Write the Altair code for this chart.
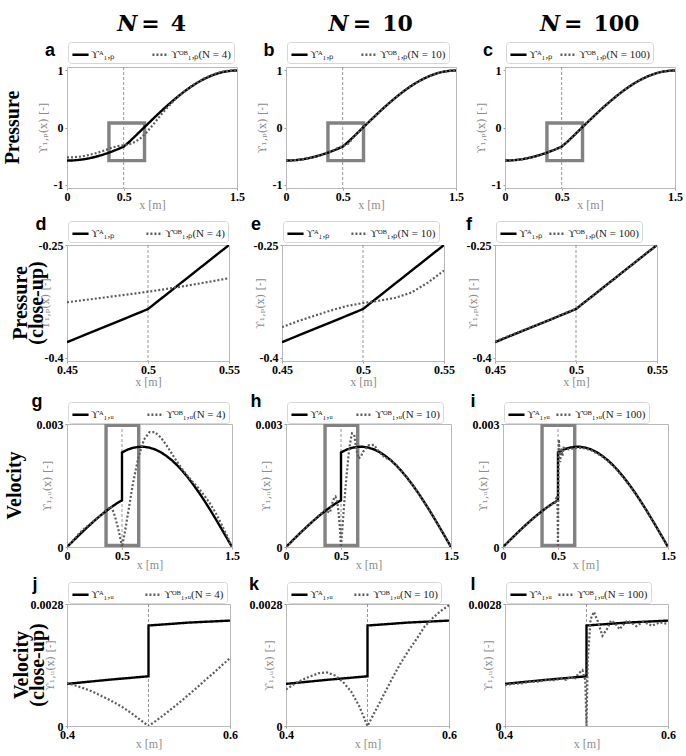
import altair as alt
import pandas as pd

# ---------------- data ----------------
# Pressure, full domain (panels a-c)
P_X = [0.0, 0.05, 0.1, 0.15, 0.2, 0.25, 0.3, 0.35, 0.4, 0.45, 0.5, 0.55, 0.6, 0.65, 0.7, 0.75,
       0.8, 0.85, 0.9, 0.95, 1.0, 1.05, 1.1, 1.15, 1.2, 1.25, 1.3, 1.35, 1.4, 1.45, 1.5]
P_A = [-0.580, -0.577, -0.569, -0.556, -0.538, -0.515, -0.487, -0.455, -0.419, -0.379, -0.335,
       -0.250, -0.155, -0.058, 0.038, 0.134, 0.229, 0.321, 0.410, 0.495, 0.577, 0.652, 0.722,
       0.785, 0.840, 0.888, 0.928, 0.959, 0.982, 0.995, 1.000]
P_OB4 = [-0.525, -0.522, -0.514, -0.500, -0.478, -0.453, -0.423, -0.388, -0.352, -0.326, -0.312,
         -0.294, -0.255, -0.185, -0.090, 0.025, 0.150, 0.270, 0.380, 0.482, 0.572, 0.652, 0.725,
         0.790, 0.848, 0.897, 0.938, 0.969, 0.989, 0.998, 1.000]
P_OB10 = [-0.578, -0.576, -0.569, -0.556, -0.538, -0.515, -0.487, -0.455, -0.417, -0.362, -0.326,
          -0.283, -0.160, -0.058, 0.037, 0.133, 0.228, 0.320, 0.409, 0.495, 0.577, 0.652, 0.722,
          0.785, 0.840, 0.888, 0.928, 0.959, 0.982, 0.995, 1.000]
P_OB100 = [-0.579, -0.576, -0.568, -0.555, -0.537, -0.514, -0.486, -0.454, -0.418, -0.378, -0.334,
           -0.250, -0.156, -0.059, 0.037, 0.133, 0.228, 0.320, 0.409, 0.494, 0.576, 0.651, 0.721,
           0.784, 0.839, 0.887, 0.927, 0.958, 0.981, 0.994, 0.999]

# Pressure close-up (panels d-f)
PC_X = [0.45, 0.46, 0.47, 0.48, 0.49, 0.5, 0.51, 0.52, 0.53, 0.54, 0.55]
PC_A = [-0.379, -0.3702, -0.3615, -0.3528, -0.3439, -0.335, -0.318, -0.301, -0.284, -0.267, -0.250]
PC_OB4 = [-0.326, -0.3233, -0.3206, -0.3178, -0.315, -0.312, -0.3088, -0.3054, -0.3018, -0.298, -0.294]
PC_OB10 = [-0.359, -0.351, -0.344, -0.337, -0.331, -0.327, -0.324, -0.320, -0.313, -0.300, -0.284]
PC_OB100 = [-0.378, -0.3695, -0.361, -0.3525, -0.3435, -0.3345, -0.3185, -0.3012, -0.2842, -0.2668, -0.2502]

# Velocity, full domain (panels g-i)
U_X = [0.0, 0.05, 0.1, 0.15, 0.2, 0.25, 0.3, 0.35, 0.4, 0.45, 0.5, 0.5, 0.55, 0.6, 0.65, 0.7,
       0.75, 0.8, 0.85, 0.9, 0.95, 1.0, 1.05, 1.1, 1.15, 1.2, 1.25, 1.3, 1.35, 1.4, 1.45, 1.5]
U_A = [0.0, 0.000133, 0.000265, 0.000395, 0.000521, 0.000642, 0.000758, 0.000866, 0.000967,
       0.001059, 0.001141, 0.002306, 0.002374, 0.002419, 0.002443, 0.002444, 0.002423, 0.002380,
       0.002315, 0.002229, 0.002123, 0.001997, 0.001853, 0.001692, 0.001516, 0.001326, 0.001124,
       0.000912, 0.000691, 0.000464, 0.000233, 0.0]
U4_X = [0.0, 0.05, 0.1, 0.15, 0.2, 0.25, 0.3, 0.35, 0.4, 0.425, 0.45, 0.475, 0.5, 0.53, 0.56, 0.6,
        0.65, 0.7, 0.75, 0.8, 0.85, 0.9, 0.95, 1.0, 1.05, 1.1, 1.15, 1.2, 1.25, 1.3, 1.35, 1.4, 1.45, 1.5]
U4 = [0.0, 0.00014, 0.00030, 0.00043, 0.00054, 0.00065, 0.00076, 0.00088, 0.00099, 0.00084,
      0.00061, 0.00034, 0.0, 0.00042, 0.00091, 0.00156, 0.00220, 0.00262, 0.00280, 0.00280,
      0.00268, 0.00250, 0.00229, 0.00208, 0.00189, 0.00172, 0.00157, 0.00142, 0.00125, 0.00106,
      0.00084, 0.00058, 0.00030, 0.0]
U10_X = [0.0, 0.05, 0.1, 0.15, 0.2, 0.25, 0.3, 0.35, 0.4, 0.41, 0.42, 0.43, 0.44, 0.45, 0.46, 0.47,
         0.48, 0.49, 0.5, 0.51, 0.52, 0.53, 0.54, 0.55, 0.56, 0.57, 0.58, 0.59, 0.6, 0.62, 0.64,
         0.66, 0.68, 0.7, 0.75, 0.8, 0.85, 0.9, 0.95, 1.0, 1.05, 1.1, 1.15, 1.2, 1.25, 1.3, 1.35,
         1.4, 1.45, 1.5]
U10 = [0.0, 0.00012, 0.00027, 0.00040, 0.00051, 0.00065, 0.00077, 0.00089, 0.00084, 0.00096,
       0.00106, 0.00114, 0.00121, 0.00123, 0.00116, 0.00101, 0.00079, 0.00045, 0.0, 0.00036,
       0.00072, 0.00108, 0.00142, 0.00172, 0.00199, 0.00228, 0.00248, 0.00264, 0.00277, 0.00274,
       0.00238, 0.00216, 0.00220, 0.00232, 0.00248, 0.00249, 0.00231, 0.00218, 0.00212, 0.00201,
       0.00184, 0.00170, 0.00152, 0.00133, 0.00111, 0.00092, 0.00070, 0.00046, 0.00024, 0.0]
U100_X = [0.0, 0.05, 0.1, 0.15, 0.2, 0.25, 0.3, 0.35, 0.4, 0.45, 0.47, 0.49, 0.495, 0.5, 0.503,
          0.508, 0.515, 0.52, 0.53, 0.54, 0.55, 0.6, 0.65, 0.7, 0.75, 0.8, 0.85, 0.9, 0.95, 1.0,
          1.05, 1.1, 1.15, 1.2, 1.25, 1.3, 1.35, 1.4, 1.45, 1.5]
U100 = [0.0, 0.000128, 0.00026, 0.00039, 0.000515, 0.000635, 0.00075, 0.00086, 0.00096, 0.00105,
        0.00107, 0.00125, 0.00118, 0.0, 0.0018, 0.00262, 0.00225, 0.00207, 0.00242, 0.00222,
        0.00242, 0.00238, 0.00241, 0.00242, 0.00240, 0.00236, 0.00229, 0.00221, 0.00210, 0.00198,
        0.00183, 0.00167, 0.00150, 0.00131, 0.00111, 0.00090, 0.00068, 0.00046, 0.00023, 0.0]

# Velocity close-up (panels j-l)
UC_X = [0.4, 0.45, 0.5, 0.5, 0.55, 0.6]
UC_A = [0.000967, 0.001059, 0.001141, 0.002306, 0.002374, 0.002419]
UC_GRID = [0.4, 0.41, 0.42, 0.43, 0.44, 0.45, 0.46, 0.47, 0.48, 0.49, 0.5, 0.51, 0.52, 0.53,
           0.54, 0.55, 0.56, 0.57, 0.58, 0.59, 0.6]
UC4 = [0.00099, 0.00093, 0.00087, 0.00080, 0.00071, 0.00062, 0.00052, 0.00041, 0.00028, 0.00014,
       0.0, 0.00013, 0.00027, 0.00042, 0.00057, 0.00073, 0.00089, 0.00106, 0.00122, 0.00139, 0.00156]
UC10 = [0.00084, 0.00096, 0.00106, 0.00114, 0.00121, 0.00123, 0.00116, 0.00101, 0.00079, 0.00045,
        0.0, 0.00036, 0.00072, 0.00108, 0.00142, 0.00172, 0.00199, 0.00228, 0.00248, 0.00264, 0.00277]
UC100_X = [0.4, 0.41, 0.42, 0.43, 0.44, 0.45, 0.46, 0.47, 0.475, 0.48, 0.485, 0.49, 0.495, 0.4985,
           0.5, 0.5015, 0.505, 0.509, 0.514, 0.5195, 0.525, 0.53, 0.535, 0.5405, 0.545, 0.5505,
           0.556, 0.561, 0.565, 0.5695, 0.575, 0.58, 0.585, 0.59, 0.595, 0.6]
UC100 = [0.00094, 0.00097, 0.00098, 0.00101, 0.00102, 0.00105, 0.00105, 0.00109, 0.00106, 0.00113,
         0.00107, 0.00120, 0.00128, 0.00105, 0.0, 0.00150, 0.00245, 0.00262, 0.00240, 0.00207,
         0.00222, 0.00242, 0.00236, 0.00222, 0.00232, 0.00242, 0.00236, 0.00229, 0.00234, 0.00239,
         0.00235, 0.00230, 0.00234, 0.00238, 0.00236, 0.00234]

N_VALUES = [4, 10, 100]
LETTERS = [["a", "b", "c"], ["d", "e", "f"], ["g", "h", "i"], ["j", "k", "l"]]
ROW_LABELS = ["Pressure", "Pressure\n(close-up)", "Velocity", "Velocity\n(close-up)"]

# ---------------- styling ----------------
SERIF = "Liberation Serif"
MATHF = "DejaVu Serif"
GRAY_T = "#8c8c8c"
FRAME = "#b8b8b8"


def sdf(xs, ys):
    return pd.DataFrame({"x": xs, "y": ys, "i": list(range(len(xs)))})


def lab_a(q):
    return "ϒᴬ₁," + q


def lab_ob(q, n):
    return "ϒᴼᴮ₁," + q + "(N = " + str(n) + ")"


def panel(row, col, spec, dA, dOB, q):
    n = N_VALUES[col]
    la, lob = lab_a(q), lab_ob(q, n)
    w, h = spec["w"], spec["h"]
    xs = alt.Scale(domain=spec["xdom"], nice=False, zero=False)
    ys = alt.Scale(domain=spec["ydom"], nice=False, zero=False)
    xax = alt.Axis(values=spec["xticks"], title="x [m]", labelFlush=False, labelOverlap=False,
                   grid=False, labelFont=SERIF, labelFontWeight="bold", labelFontSize=12,
                   labelColor="black", titleFont=SERIF, titleFontWeight="normal", titleFontSize=12,
                   titleColor=GRAY_T, tickSize=2, tickColor="#999", domainColor=FRAME,
                   labelPadding=1, titleY=spec["xty"], labelExpr="toString(datum.value)")
    yax = alt.Axis(values=spec["yticks"], title="ϒ₁," + q + "(x) [-]", labelFlush=False,
                   labelOverlap=False, grid=False, labelFont=SERIF, labelFontWeight="bold",
                   labelFontSize=12, labelColor="black", titleFont=MATHF, titleFontWeight="normal",
                   titleFontSize=11, titleColor=GRAY_T, tickSize=2, tickColor="#999",
                   domainColor=FRAME, labelPadding=2, titleX=spec["ytx"],
                   labelExpr="toString(datum.value)")
    X = lambda f: alt.X(f, type="quantitative", scale=xs, axis=xax)
    Y = lambda f: alt.Y(f, type="quantitative", scale=ys, axis=yax)
    leg = alt.Legend(orient="none", legendX=1, legendY=spec["ly"], direction="horizontal",
                     columns=2, title=None, fillColor="white", strokeColor="#d6d6d6", padding=3,
                     cornerRadius=3, columnPadding=spec["cp"][col], labelFont=SERIF, labelFontSize=11,
                     labelColor="#222", symbolType="stroke", symbolSize=260,
                     symbolStrokeWidth=2.3, labelOffset=1, labelLimit=200)
    color = alt.Color("s:N", scale=alt.Scale(domain=[la, lob], range=["#000000", "#5c5c5c"]),
                      legend=leg)
    dash = alt.StrokeDash("s:N", scale=alt.Scale(domain=[la, lob], range=[[1, 0], [2, 2]]),
                          legend=leg)

    layers = []
    layers.append(alt.Chart(pd.DataFrame({"x": [0.5]})).mark_rule(
        color="#8a8a8a", strokeWidth=0.9, strokeDash=[3, 2]).encode(x=X("x")))
    if spec.get("box"):
        b = spec["box"]
        layers.append(alt.Chart(pd.DataFrame({"x1": [b[0]], "x2": [b[1]], "y1": [b[2]], "y2": [b[3]]}))
                      .mark_rect(fillOpacity=0, stroke="#828282", strokeWidth=3.4)
                      .encode(x=X("x1"), x2="x2", y=Y("y1"), y2="y2"))
    da = sdf(*dA).assign(s=la)
    dob = sdf(*dOB).assign(s=lob)
    layers.append(alt.Chart(da).mark_line(strokeWidth=2.4, clip=True).encode(
        x=X("x"), y=Y("y"), color=color, strokeDash=dash, order="i:Q"))
    layers.append(alt.Chart(dob).mark_line(strokeWidth=2.2, clip=True).encode(
        x=X("x"), y=Y("y"), color=color, strokeDash=dash, order="i:Q"))
    # panel letter
    layers.append(alt.Chart(pd.DataFrame({"t": [LETTERS[row][col]]})).mark_text(
        font="Liberation Sans", fontWeight="bold", fontSize=18, color="black", align="center",
        baseline="middle").encode(text="t:N", x=alt.value(spec["lx"]), y=alt.value(spec["lyy"])))
    # row label
    if col == 0:
        layers.append(alt.Chart(pd.DataFrame({"t": [ROW_LABELS[row]]})).mark_text(
            font=SERIF, fontWeight="bold", fontSize=20, color="black", angle=270, align="center",
            baseline="middle", lineBreak="\n", lineHeight=16).encode(
            text="t:N", x=alt.value(spec["rlx"]), y=alt.value(h / 2)))
    # column title
    if row == 0:
        nd = len(str(n))
        W = 19 + 4 + 18 + 11 + 15.3 * nd
        nr = w / 2 - W / 2 + 19
        layers.append(alt.Chart(pd.DataFrame({"t": ["N"]})).mark_text(
            font=MATHF, fontWeight="bold", fontStyle="italic", fontSize=22, color="black",
            align="right", baseline="middle").encode(text="t:N", x=alt.value(nr), y=alt.value(-43)))
        layers.append(alt.Chart(pd.DataFrame({"t": ["=\u2002" + str(n)]})).mark_text(
            font=MATHF, fontWeight="bold", fontSize=22, color="black",
            align="left", baseline="middle").encode(text="t:N", x=alt.value(nr + 4), y=alt.value(-43)))
    return alt.layer(*layers).properties(width=w, height=h)


SPECS = [
    dict(w=170, h=121, xdom=[0, 1.5], xticks=[0, 0.5, 1.5], ydom=[-1.06, 1.06], yticks=[-1, 0, 1],
         ytx=-19, xty=11, ly=-25, lx=-17, lyy=-16, rlx=-54, box=[0.37, 0.684, -0.58, 0.08],
         cp=[32, 22, 2]),
    dict(w=162, h=116, xdom=[0.45, 0.55], xticks=[0.45, 0.5, 0.55], ydom=[-0.404, -0.25],
         yticks=[-0.4, -0.25], ytx=-17, xty=15, ly=-24, lx=-26, lyy=-20, rlx=-46, box=None,
         cp=[26, 16, 1]),
    dict(w=165, h=123, xdom=[0, 1.5], xticks=[0, 0.5, 1.5], ydom=[0, 0.003], yticks=[0, 0.003],
         ytx=-15, xty=12, ly=-22, lx=-30, lyy=-22, rlx=-52, box=[0.355, 0.652, 0.00004, 0.00297],
         cp=[28, 18, 1]),
    dict(w=163, h=122, xdom=[0.4, 0.6], xticks=[0.4, 0.6], ydom=[0, 0.0028], yticks=[0, 0.0028],
         ytx=-12, xty=12, ly=-22, lx=-32, lyy=-19, rlx=-45, box=None, cp=[26, 16, 1]),
]

DATA = [
    ("ₚ", [((P_X, P_A), (P_X, P_OB4)), ((P_X, P_A), (P_X, P_OB10)), ((P_X, P_A), (P_X, P_OB100))]),
    ("ₚ", [((PC_X, PC_A), (PC_X, PC_OB4)), ((PC_X, PC_A), (PC_X, PC_OB10)), ((PC_X, PC_A), (PC_X, PC_OB100))]),
    ("ᵤ", [((U_X, U_A), (U4_X, U4)), ((U_X, U_A), (U10_X, U10)), ((U_X, U_A), (U100_X, U100))]),
    ("ᵤ", [((UC_X, UC_A), (UC_GRID, UC4)), ((UC_X, UC_A), (UC_GRID, UC10)), ((UC_X, UC_A), (UC100_X, UC100))]),
]


def indep(c):
    return c.resolve_scale(color="independent", strokeDash="independent").resolve_legend(
        color="independent", strokeDash="independent")


rows = []
for r in range(4):
    q, pairs = DATA[r]
    panels = [panel(r, c, SPECS[r], pairs[c][0], pairs[c][1], q) for c in range(3)]
    rows.append(indep(alt.hconcat(*panels, spacing=10)))

chart = indep(alt.vconcat(*rows, spacing=4)).properties(
    padding={"left": 2, "top": 12, "right": 2, "bottom": 2}
).configure_view(stroke=FRAME, strokeWidth=1)

chart.save("out.html", embed_options={"renderer": "svg", "actions": False})
